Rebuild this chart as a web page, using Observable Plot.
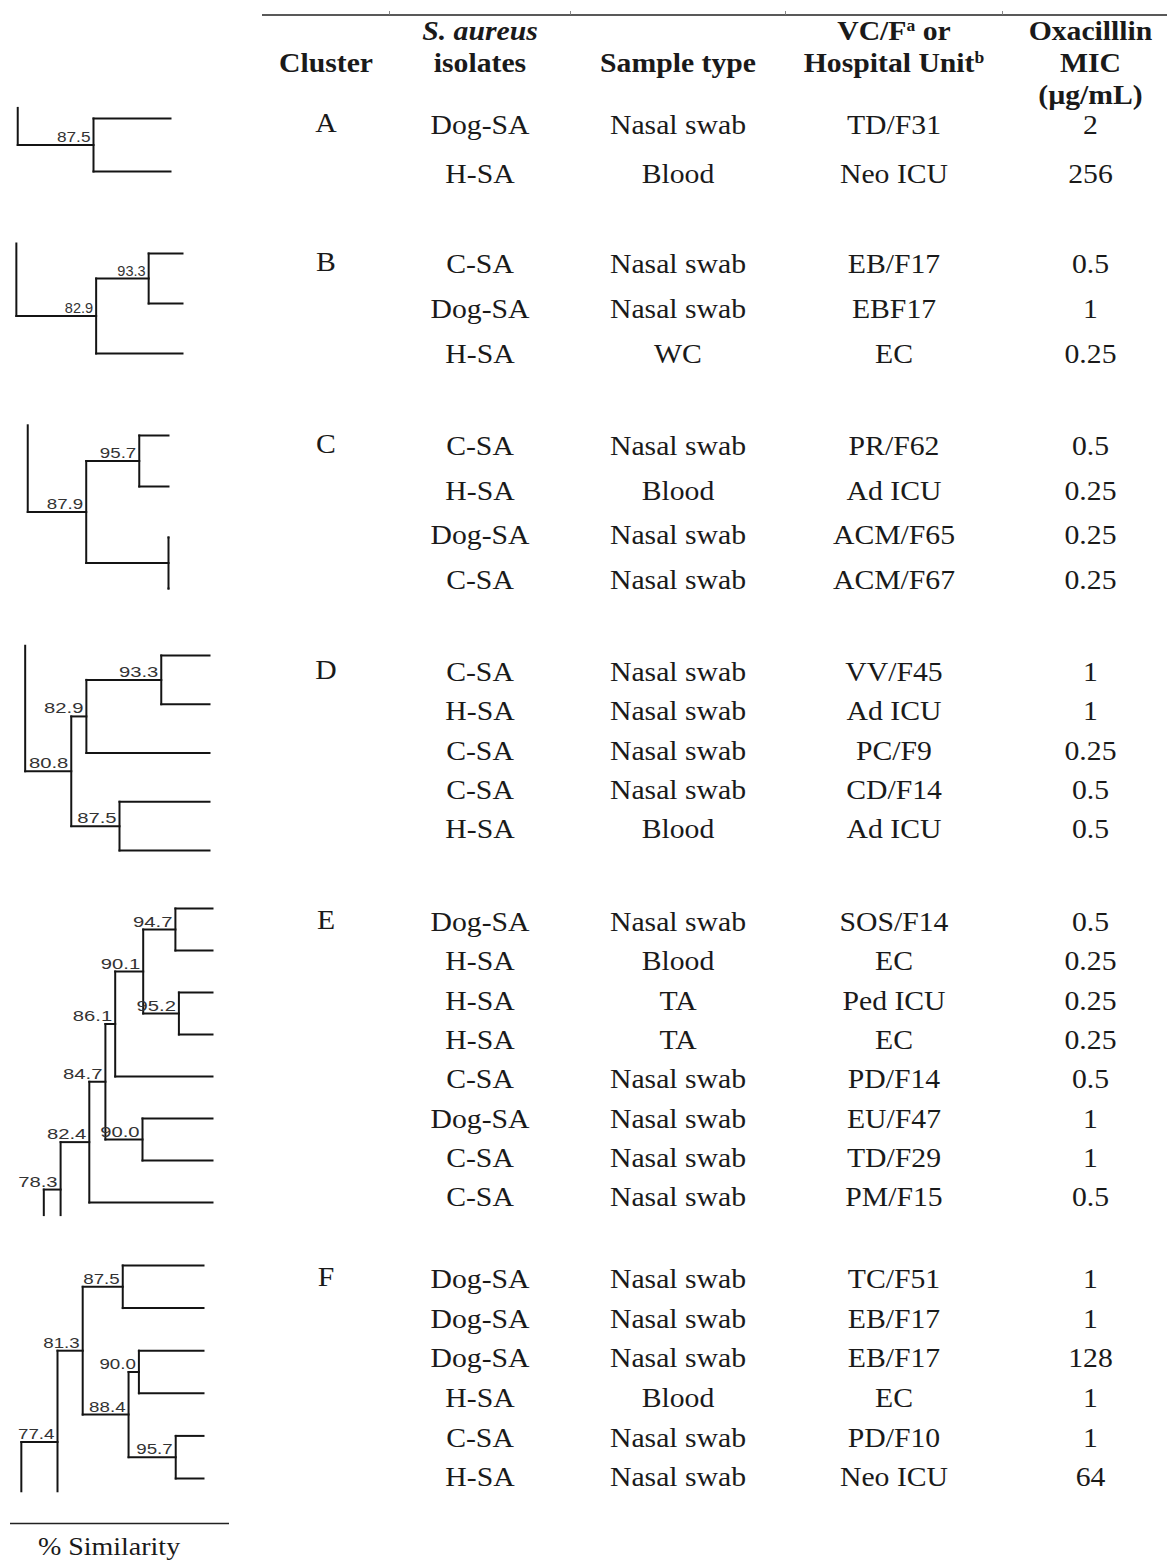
<!DOCTYPE html>
<html><head><meta charset="utf-8">
<script src="https://cdn.jsdelivr.net/npm/d3@7"></script>
<script src="https://cdn.jsdelivr.net/npm/@observablehq/plot@0.6"></script>
<style>
html,body{margin:0;padding:0;background:#fff;overflow:hidden}
#fig{position:relative;width:1167px;height:1560px;background:#fff;overflow:hidden}
#fig svg{position:absolute;left:0;top:0}
</style></head><body><div id="fig"></div>
<script>
// ---------------- DATA ----------------
const clusters = ["A", "B", "C", "D", "E", "F"];
const clusterSizes = [2, 3, 4, 5, 8, 6];
const headers = ["\nCluster", "S. aureus\nisolates", "\nSample type", "VC/Fᵃ or\nHospital Unitᵇ", "Oxacilllin\nMIC\n(µg/mL)"];
const isolates = [
  "Dog-SA", "H-SA",
  "C-SA", "Dog-SA", "H-SA",
  "C-SA", "H-SA", "Dog-SA", "C-SA",
  "C-SA", "H-SA", "C-SA", "C-SA", "H-SA",
  "Dog-SA", "H-SA", "H-SA", "H-SA", "C-SA", "Dog-SA", "C-SA", "C-SA",
  "Dog-SA", "Dog-SA", "Dog-SA", "H-SA", "C-SA", "H-SA"
];
const sampleTypes = [
  "Nasal swab", "Blood",
  "Nasal swab", "Nasal swab", "WC",
  "Nasal swab", "Blood", "Nasal swab", "Nasal swab",
  "Nasal swab", "Nasal swab", "Nasal swab", "Nasal swab", "Blood",
  "Nasal swab", "Blood", "TA", "TA", "Nasal swab", "Nasal swab", "Nasal swab", "Nasal swab",
  "Nasal swab", "Nasal swab", "Nasal swab", "Blood", "Nasal swab", "Nasal swab"
];
const units = [
  "TD/F31", "Neo ICU",
  "EB/F17", "EBF17", "EC",
  "PR/F62", "Ad ICU", "ACM/F65", "ACM/F67",
  "VV/F45", "Ad ICU", "PC/F9", "CD/F14", "Ad ICU",
  "SOS/F14", "EC", "Ped ICU", "EC", "PD/F14", "EU/F47", "TD/F29", "PM/F15",
  "TC/F51", "EB/F17", "EB/F17", "EC", "PD/F10", "Neo ICU"
];
const mics = [
  "2", "256",
  "0.5", "1", "0.25",
  "0.5", "0.25", "0.25", "0.25",
  "1", "1", "0.25", "0.5", "0.5",
  "0.5", "0.25", "0.25", "0.25", "0.5", "1", "1", "0.5",
  "1", "1", "128", "1", "1", "64"
];
// dendrogram fragments: [similarity, child, child]; integers are leaf rows, null = branch continuing off the figure
const trees = [
  [87.5, 0, 1],
  [82.9, [93.3, 0, 1], 2],
  [87.9, [95.7, 0, 1], [100, 2, 3]],
  [80.8, [82.9, [93.3, 0, 1], 2], [87.5, 3, 4]],
  [78.3, [82.4, [84.7, [86.1, [90.1, [94.7, 0, 1], [95.2, 2, 3]], 4], [90.0, 5, 6]], 7], null],
  [77.4, [81.3, [87.5, 0, 1], [88.4, [90.0, 2, 3], [95.7, 4, 5]]], null]
];
// estimated (unlabelled) similarity of each fragment's parent node
const parentSim = [75.2, 67.1, 79.3, 74.4, 75.9, 71.8];
const axisLabel = "% Similarity";

// ---------------- LAYOUT (scale ranges, sizes, styles) ----------------
const W = 1167, H = 1560;
const clusterGap = 1.3;
// pixel range of the first and last table row of each cluster
const tableRowRange = [[125, 174], [264, 354], [446, 580], [672, 829], [922, 1197], [1279, 1477]];
// pixel range of the first and last leaf of each dendrogram fragment
const leafRowRange = [[118, 171], [253, 353], [435, 588], [655, 850], [908, 1202], [1265, 1478]];
const tableLeft = 262, colWidths = [127, 181, 215, 217, 176];
const dendroScales = [
  {leafEnd: 170, k: 6.16, labelStretch: 1.15}, {leafEnd: 182, k: 5.05, labelStretch: 0.97},
  {leafEnd: 168, k: 6.8, labelStretch: 1.25}, {leafEnd: 209, k: 7.2, labelStretch: 1.35},
  {leafEnd: 212, k: 7.0, labelStretch: 1.35}, {leafEnd: 203, k: 6.46, labelStretch: 1.25}
];
const serif = "'Liberation Serif', 'Times New Roman', Times, serif";
const sans = "'Liberation Sans', Arial, Helvetica, sans-serif";
const ink = "#1a1a1a";

const fig = document.getElementById("fig");

function stretch(svg, sx) {
  svg.querySelectorAll("text").forEach(t => {
    const tr = t.getAttribute("transform");
    if (tr) t.setAttribute("transform", tr + ` scale(${sx},1)`);
    else {
      const x = +(t.getAttribute("x") || 0), y = +(t.getAttribute("y") || 0);
      t.setAttribute("x", 0); t.setAttribute("y", 0);
      t.setAttribute("transform", `translate(${x},${y}) scale(${sx},1)`);
    }
  });
}

// rows
const rows = [];
const clusterStart = clusterSizes.map((s, k) => d3.sum(clusterSizes.slice(0, k)));
clusters.forEach((c, k) => {
  for (let i = 0; i < clusterSizes[k]; i++) {
    const n = clusterStart[k] + i;
    rows.push({k, i, n, slot: n + k * clusterGap, iso: isolates[n], sample: sampleTypes[n], unit: units[n], mic: mics[n]});
  }
});
const slotOf = (k, i) => clusterStart[k] + i + k * clusterGap;

// table y scale: piecewise, one segment per cluster
const yDomain = clusters.flatMap((c, k) => [slotOf(k, 0), slotOf(k, clusterSizes[k] - 1)]);
const yRange = tableRowRange.flat();
const yMap = d3.scaleLinear(yDomain, yRange);
const topSlot = yMap.invert(14.5);

const tableW = d3.sum(colWidths);
const colStart = colWidths.map((w, j) => d3.sum(colWidths.slice(0, j)));
const colCenter = colWidths.map((w, j) => colStart[j] + w / 2);
const bounds = colStart.slice(1);

const textBase = {fontFamily: serif, fontSize: 27, fill: ink};

const table = Plot.plot({
  width: W, height: H, margin: 0,
  x: {type: "linear", domain: [0, tableW], range: [tableLeft, tableLeft + tableW], axis: null},
  y: {type: "linear", domain: yDomain, range: yRange, axis: null},
  style: {background: "none", overflow: "visible"},
  marks: [
    Plot.ruleY([topSlot], {x1: () => 0, x2: () => tableW, stroke: "#222", strokeWidth: 1.6}),
    Plot.ruleX(bounds, {x: d => d, y1: () => yMap.invert(11), y2: () => topSlot, stroke: "#888", strokeWidth: 1}),
    Plot.text(headers, {x: (d, i) => colCenter[i], text: d => d, frameAnchor: "top", lineAnchor: "top", dy: 17,
      lineHeight: 1.18, fontWeight: "bold", ...textBase}),
    Plot.text(rows.filter(r => r.i === 0), {x: () => colCenter[0], y: "slot", text: d => clusters[d.k], dy: -2, ...textBase}),
    Plot.text(rows, {x: () => colCenter[1], y: "slot", text: "iso", ...textBase}),
    Plot.text(rows, {x: () => colCenter[2], y: "slot", text: "sample", ...textBase}),
    Plot.text(rows, {x: () => colCenter[3], y: "slot", text: "unit", ...textBase}),
    Plot.text(rows, {x: () => colCenter[4], y: "slot", text: "mic", ...textBase})
  ]
});
// italic species name, superscripts
const ns = "http://www.w3.org/2000/svg";
table.querySelectorAll("tspan, text").forEach(el => {
  if (el.childElementCount === 0 && el.textContent === "S. aureus") el.setAttribute("font-style", "italic");
});
table.querySelectorAll("tspan, text").forEach(el => {
  if (el.childElementCount !== 0) return;
  const m = el.textContent.match(/^(.*?)([ᵃᵇ])(.*)$/);
  if (!m) return;
  el.textContent = "";
  const a = document.createElementNS(ns, "tspan"); a.textContent = m[1]; el.appendChild(a);
  const b = document.createElementNS(ns, "tspan"); b.textContent = m[2] === "ᵃ" ? "a" : "b";
  b.setAttribute("dy", "-9"); b.setAttribute("font-size", "16"); el.appendChild(b);
  if (m[3]) {
    const c = document.createElementNS(ns, "tspan"); c.textContent = m[3]; c.setAttribute("dy", "9"); el.appendChild(c);
  }
});
stretch(table, 1.1);

// dendrograms
function build(k) {
  const leafSlot = i => slotOf(k, i);
  const firstSlot = leafSlot(0), bottom = leafSlot(clusterSizes[k] - 1) + 0.3;
  const segs = [], labels = [];
  function walk(node) {
    if (typeof node === "number") return {x: 100, y: leafSlot(node)};
    const [sim, a, b] = node;
    const A = walk(a);
    segs.push({x1: sim, y1: A.y, x2: A.x, y2: A.y});
    let y;
    if (b === null) {
      segs.push({x1: sim, y1: A.y, x2: sim, y2: bottom});
      y = A.y + 0.65 * (bottom - A.y);
    } else {
      const B = walk(b);
      segs.push({x1: sim, y1: B.y, x2: B.x, y2: B.y});
      segs.push({x1: sim, y1: A.y, x2: sim, y2: B.y});
      y = (A.y + B.y) / 2;
    }
    if (sim < 100) labels.push({sim, y});
    return {x: sim, y, open: b === null};
  }
  const root = walk(trees[k]);
  const p = parentSim[k];
  segs.push({x1: p, y1: root.y, x2: root.x, y2: root.y});
  segs.push({x1: p, y1: root.y, x2: p, y2: root.open ? bottom : firstSlot - 0.2});
  return {segs, labels, domain: [firstSlot, leafSlot(clusterSizes[k] - 1)]};
}

const plots = [table];
clusters.forEach((c, k) => {
  const {segs, labels, domain} = build(k);
  const ds = dendroScales[k];
  const p = Plot.plot({
    width: 240, height: H, margin: 0,
    x: {type: "linear", domain: [100 - ds.leafEnd / ds.k, 100], range: [0, ds.leafEnd], axis: null},
    y: {type: "linear", domain, range: leafRowRange[k], axis: null},
    style: {background: "none", overflow: "visible"},
    marks: [
      Plot.link(segs, {x1: "x1", y1: "y1", x2: "x2", y2: "y2", stroke: "#141414", strokeWidth: 2, strokeLinecap: "square"}),
      Plot.text(labels, {x: "sim", y: "y", text: d => d.sim.toFixed(1), textAnchor: "end", lineAnchor: "bottom",
        dx: -3, dy: -3, fontFamily: sans, fontSize: 15, fill: "#333"})
    ]
  });
  stretch(p, ds.labelStretch);
  plots.push(p);
});

// footer: similarity axis caption
const footer = Plot.plot({
  width: 219, height: 52, margin: 0,
  y: {type: "linear", domain: [0, 1], range: [15, 52], axis: null},
  style: {background: "none", overflow: "visible", left: "10px", top: "1508px"},
  marks: [
    Plot.ruleY([0], {stroke: "#222", strokeWidth: 1.5}),
    Plot.text([axisLabel], {text: d => d, frameAnchor: "bottom", lineAnchor: "bottom", dx: -11, dy: -6,
      fontFamily: serif, fontSize: 25, fill: ink})
  ]
});
stretch(footer, 1.12);
plots.push(footer);

plots.forEach(p => fig.appendChild(p));
</script></body></html>
